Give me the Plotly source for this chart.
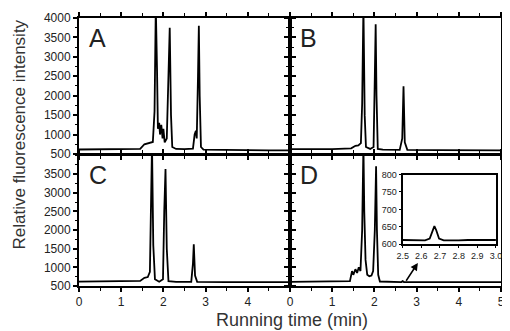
import plotly.graph_objects as go

# ---------------- data ----------------
t_A = [0.0, 1.0, 1.45, 1.55, 1.65, 1.75, 1.79, 1.82, 1.85, 1.87, 1.9, 1.92, 1.95, 1.98, 2.0, 2.03, 2.08, 2.12, 2.15, 2.18, 2.21, 2.3, 2.5, 2.7, 2.74, 2.77, 2.79, 2.82, 2.84, 2.86, 2.89, 2.95, 3.5, 4.5, 5.0]
I_A = [615, 615, 630, 750, 780, 810, 1600, 4300, 2600, 1150, 1300, 1000, 1250, 900, 1150, 800, 900, 2500, 3750, 1500, 680, 630, 625, 640, 1000, 1100, 900, 2500, 3800, 2000, 680, 610, 600, 595, 595]

t_B = [0.0, 1.0, 1.45, 1.55, 1.62, 1.68, 1.71, 1.74, 1.77, 1.8, 1.9, 1.98, 2.01, 2.03, 2.05, 2.08, 2.2, 2.6, 2.66, 2.69, 2.72, 2.78, 3.5, 4.5, 5.0]
I_B = [625, 625, 645, 710, 720, 780, 1800, 4300, 1500, 680, 630, 680, 2500, 3840, 2000, 630, 610, 605, 900, 2240, 800, 605, 600, 595, 595]

t_C = [0.0, 1.0, 1.45, 1.55, 1.63, 1.68, 1.71, 1.73, 1.76, 1.8, 1.9, 1.99, 2.02, 2.05, 2.08, 2.12, 2.3, 2.66, 2.7, 2.72, 2.75, 2.8, 3.5, 4.5, 5.0]
I_C = [615, 615, 635, 720, 740, 880, 2500, 4300, 1600, 680, 615, 680, 2500, 3640, 1500, 630, 610, 610, 1100, 1620, 780, 610, 605, 605, 605]

t_D = [0.0, 1.0, 1.42, 1.47, 1.5, 1.55, 1.59, 1.63, 1.67, 1.71, 1.74, 1.76, 1.79, 1.83, 1.88, 1.93, 1.97, 2.01, 2.04, 2.06, 2.09, 2.13, 2.3, 2.64, 2.67, 2.7, 3.5, 4.5, 5.0]
I_D = [610, 610, 630, 900, 800, 950, 850, 1000, 900, 2000, 4300, 2500, 1200, 800, 760, 780, 900, 2000, 3710, 2000, 800, 620, 610, 605, 630, 605, 605, 605, 605]

t_inset = [2.5, 2.53, 2.56, 2.59, 2.62, 2.645, 2.66, 2.67, 2.68, 2.695, 2.72, 2.76, 2.8, 2.85, 2.9, 2.95, 3.0]
I_inset = [612, 612, 611, 612, 611, 616, 640, 652, 640, 616, 611, 612, 611, 612, 612, 611, 612]

y_ticks_top = [500, 1000, 1500, 2000, 2500, 3000, 3500, 4000]
y_ticks_bottom = [500, 1000, 1500, 2000, 2500, 3000, 3500]
x_ticks_C = [0, 1, 2, 3, 4]
x_ticks_D = [0, 1, 2, 3, 4, 5]
inset_x_ticks = [2.5, 2.6, 2.7, 2.8, 2.9, 3.0]
inset_y_ticks = [600, 650, 700, 750, 800]
panel_labels = ["A", "B", "C", "D"]

FONT = "Arial, Liberation Sans, sans-serif"
TICKCOL = "#222"
line = dict(color="black", width=1.8)

fig = go.Figure()
fig.add_trace(go.Scatter(x=t_A, y=I_A, mode="lines", line=line, xaxis="x", yaxis="y"))
fig.add_trace(go.Scatter(x=t_B, y=I_B, mode="lines", line=line, xaxis="x2", yaxis="y2"))
fig.add_trace(go.Scatter(x=t_C, y=I_C, mode="lines", line=line, xaxis="x3", yaxis="y3"))
fig.add_trace(go.Scatter(x=t_D, y=I_D, mode="lines", line=line, xaxis="x4", yaxis="y4"))
fig.add_trace(go.Scatter(x=t_inset, y=I_inset, mode="lines", line=dict(color="black", width=1.8),
                         xaxis="x5", yaxis="y5"))

def xax(domain, anchor, tickvals=None):
    d = dict(domain=domain, anchor=anchor, range=[0, 5], showline=True, linecolor="black",
             linewidth=2, mirror="ticks", ticks="outside", ticklen=4, tickwidth=1.5,
             tickcolor="black", showgrid=False, zeroline=False,
             minor=dict(dtick=0.5, ticks="outside", ticklen=3, tickcolor="black", tickwidth=1),
             tickfont=dict(family=FONT, size=12, color=TICKCOL))
    if tickvals is None:
        d.update(tickvals=[0, 1, 2, 3, 4, 5], showticklabels=False)
    else:
        d.update(tickvals=tickvals, ticktext=[str(v) for v in tickvals])
    return d

def yax(domain, anchor, tickvals=None):
    d = dict(domain=domain, anchor=anchor, range=[500, 4000], showline=True, linecolor="black",
             linewidth=2, mirror="ticks", ticks="outside", ticklen=4, tickwidth=1.5,
             tickcolor="black", showgrid=False, zeroline=False,
             minor=dict(dtick=250, ticks="outside", ticklen=2, tickcolor="black", tickwidth=1),
             tickfont=dict(family=FONT, size=12, color=TICKCOL))
    if tickvals is None:
        d.update(tickvals=y_ticks_top, showticklabels=False)
    else:
        d.update(tickvals=tickvals)
    return d

top = [0.4926, 1.0]
bot = [0.0, 0.487]
# page has an 8px body margin: shrink the figure so the plot lands where the reference has it
fig.update_layout(
    width=502, height=323,
    margin=dict(l=71, r=3, t=9, b=45),
    paper_bgcolor="white", plot_bgcolor="white",
    showlegend=False,
    xaxis=xax([0, 0.5], "y"),
    yaxis=yax(top, "x", y_ticks_top),
    xaxis2=xax([0.5, 1.0], "y2"),
    yaxis2=yax(top, "x2"),
    xaxis3=xax([0, 0.5], "y3", x_ticks_C),
    yaxis3=yax(bot, "x3", y_ticks_bottom),
    xaxis4=xax([0.5, 1.0], "y4", x_ticks_D),
    yaxis4=yax(bot, "x4"),
    xaxis5=dict(domain=[0.767, 0.988], anchor="y5", range=[2.5, 3.0], tickvals=inset_x_ticks,
                ticktext=[f"{v:.1f}" for v in inset_x_ticks], showline=True, linecolor="black",
                linewidth=2, mirror=True, ticks="outside", ticklen=2, tickcolor="black",
                showgrid=False, zeroline=False, tickfont=dict(family=FONT, size=9, color=TICKCOL)),
    yaxis5=dict(domain=[0.156, 0.416], anchor="x5", range=[600, 800], tickvals=inset_y_ticks,
                showline=True, linecolor="black", linewidth=2, mirror=True, ticks="outside",
                ticklen=2, tickcolor="black", showgrid=False, zeroline=False,
                tickfont=dict(family=FONT, size=9, color=TICKCOL)),
)

# panel letters
for lab, xr, yr in zip(panel_labels, ["x", "x2", "x3", "x4"], ["y", "y2", "y3", "y4"]):
    fig.add_annotation(text=lab, xref=f"{xr} domain", yref=f"{yr} domain", x=0.04, y=0.97,
                       xanchor="left", yanchor="top", showarrow=False,
                       font=dict(family=FONT, size=25, color="#222"))

# arrow toward inset
fig.add_annotation(x=3.03, y=1120, ax=2.73, ay=600, xref="x4", yref="y4", axref="x4", ayref="y4",
                   showarrow=True, arrowhead=2, arrowsize=1, arrowwidth=1.5, arrowcolor="black", text="")

# axis titles
fig.add_annotation(text="Running time (min)", xref="paper", yref="paper", x=0.505, y=-0.126,
                   xanchor="center", yanchor="middle", showarrow=False,
                   font=dict(family=FONT, size=18, color="#333"))
fig.add_annotation(text="Relative fluorescence intensity", xref="paper", yref="paper",
                   x=-0.14, y=0.565, textangle=-90, xanchor="center", yanchor="middle",
                   showarrow=False, font=dict(family=FONT, size=17, color="#333"))

fig.write_html("out.html")
